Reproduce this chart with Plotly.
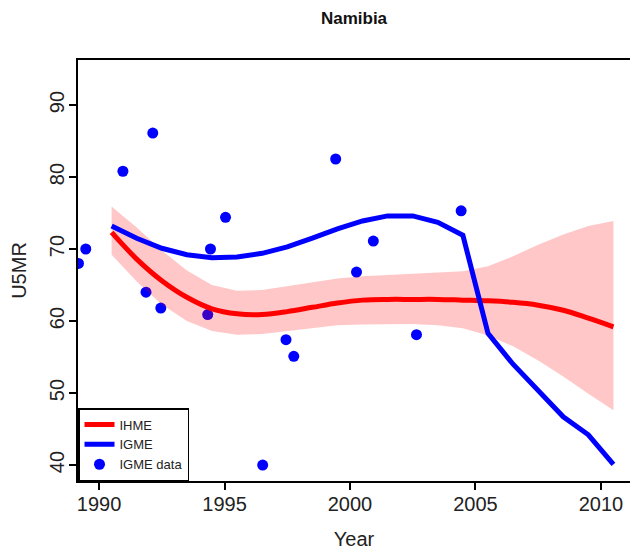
import plotly.graph_objects as go

# IGME survey data points
data_year = [1989.18, 1989.47, 1990.95, 1991.87, 1992.14, 1992.46, 1994.33, 1994.44,
             1995.04, 1996.52, 1997.45, 1997.76, 1999.43, 2000.26, 2000.93, 2002.65, 2004.43]
data_u5mr = [68.0, 70.0, 80.8, 64.0, 86.1, 61.8, 60.9, 70.0,
             74.4, 40.0, 57.4, 55.1, 82.5, 66.8, 71.1, 58.1, 75.3]

years = [1990.5 + i for i in range(21)]

ihme = [72.3, 68.6, 65.6, 63.3, 61.7, 61.0, 60.9, 61.3, 61.9, 62.5, 62.9,
        63.0, 63.0, 63.0, 62.9, 62.8, 62.6, 62.2, 61.5, 60.4, 59.2]
ihme_upper = [75.9, 73.0, 69.8, 67.0, 65.0, 64.2, 64.3, 64.8, 65.4, 65.9, 66.2,
              66.4, 66.6, 66.7, 66.9, 67.6, 69.0, 70.6, 72.0, 73.2, 73.9]
ihme_lower = [69.2, 65.5, 62.3, 60.0, 58.6, 58.1, 58.2, 58.6, 59.0, 59.4, 59.5,
              59.6, 59.6, 59.4, 59.0, 58.0, 56.5, 54.5, 52.3, 49.9, 47.6]

igme = [73.2, 71.5, 70.1, 69.2, 68.8, 68.9, 69.4, 70.3, 71.5, 72.8, 73.9,
        74.6, 74.6, 73.7, 71.9, 58.3, 54.0, 50.3, 46.7, 44.2, 40.1]

fig = go.Figure()

fig.add_trace(go.Scatter(x=data_year, y=data_u5mr, mode="markers", name="IGME data",
                         marker=dict(color="#0000ff", size=11), legendrank=3))

# uncertainty band
fig.add_trace(go.Scatter(x=years, y=ihme_upper, mode="lines", line=dict(width=0),
                         showlegend=False, hoverinfo="skip"))
fig.add_trace(go.Scatter(x=years, y=ihme_lower, mode="lines", line=dict(width=0),
                         fill="tonexty", fillcolor="rgba(255,0,0,0.22)",
                         showlegend=False, hoverinfo="skip"))

fig.add_trace(go.Scatter(x=years, y=ihme, mode="lines", name="IHME",
                         line=dict(color="#ff0000", width=5, shape="spline"), legendrank=1))
fig.add_trace(go.Scatter(x=years, y=igme, mode="lines", name="IGME",
                         line=dict(color="#0000ff", width=5), legendrank=2))

axis_common = dict(
    showline=True, mirror=True, linecolor="black", linewidth=1.5,
    ticks="outside", ticklen=7, tickwidth=1.5, tickcolor="black",
    showgrid=False, zeroline=False, automargin=False,
    tickfont=dict(size=20, color="#222"),
)

# page body has an 8px margin, so the figure is sized to fit the window
fig.update_layout(
    width=630, height=549,
    margin=dict(l=70, r=8, t=52, b=76, autoexpand=False),
    paper_bgcolor="white", plot_bgcolor="white",
    font=dict(family="Liberation Sans, Arial, sans-serif", color="#222"),
    title=dict(text="<b>Namibia</b>", font=dict(size=17, color="#111"),
               x=0.5, xref="paper", xanchor="center",
               y=1 - 10 / 549, yref="container", yanchor="middle"),
    xaxis=dict(axis_common, range=[1989.16, 2011.16], tickvals=[1990, 1995, 2000, 2005, 2010],
               ticklabelstandoff=-3,
               title=dict(text="Year", font=dict(size=20, color="#222"), standoff=18)),
    yaxis=dict(axis_common, range=[37.78, 96.25], tickvals=[40, 50, 60, 70, 80, 90],
               tickangle=-90, ticklabelstandoff=-3,
               title=dict(text="U5MR", font=dict(size=20, color="#222"), standoff=18)),
    legend=dict(x=0, y=0, xanchor="left", yanchor="bottom",
                bordercolor="black", borderwidth=1.5, bgcolor="white",
                font=dict(size=13, color="#222"), traceorder="normal",
                itemwidth=30),
    showlegend=True,
)

fig.write_html("out.html")
